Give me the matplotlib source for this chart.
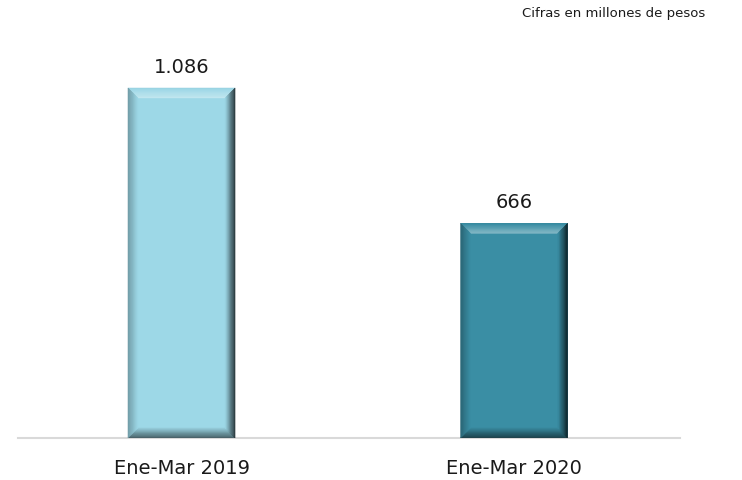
import matplotlib.pyplot as plt
from matplotlib import patches
from matplotlib import colors as mcolors
import numpy as np

periods = ['Ene-Mar 2019', 'Ene-Mar 2020']
values = [1086, 666]
labels = ['1.086', '666']
colors = ['#9dd8e7', '#3a8ea4']

fig = plt.figure(figsize=(7.42, 4.8), dpi=100)
ax = fig.add_axes([18/742, 42/480, 662/742, 438/480])

x = np.arange(len(values))
width = 0.322
bars = ax.bar(x, values, width=width, color=colors, zorder=2)

ax.set_xlim(-0.4917, 1.499)
ax.set_ylim(0, 1359)

# bevel size, roughly 10 px
bx = 10 / 332.5
by = 10 * 1359 / 438

def shade(c, f):
    c = np.array(mcolors.to_rgb(c))
    if f > 0:
        return c + (1 - c) * f
    return c * (1 + f)

def face(p0, p1, d0, d1, c, f_out, f_in, n=12):
    p0, p1, d0, d1 = map(np.array, (p0, p1, d0, d1))
    for k in range(n):
        t0, t1 = k / n, (k + 1) / n
        pts = [p0 + t0 * d0, p1 + t0 * d1, p1 + t1 * d1, p0 + t1 * d0]
        f = f_out + (f_in - f_out) * (k + 0.5) / n
        ax.add_patch(patches.Polygon(pts, closed=True, color=shade(c, f),
                                     lw=0.3, zorder=3))

for b, c in zip(bars, colors):
    x0, x1 = b.get_x(), b.get_x() + b.get_width()
    y0, y1 = 0, b.get_height()
    face((x0, y1), (x1, y1), (bx, -by), (-bx, -by), c, -0.05, 0.4)   # top
    face((x0, y0), (x1, y0), (bx, by), (-bx, by), c, -0.6, -0.05)    # bottom
    face((x0, y1), (x0, y0), (bx, -by), (bx, by), c, -0.3, 0.0)      # left
    face((x1, y1), (x1, y0), (-bx, -by), (-bx, by), c, -0.8, 0.0)    # right

for xi, v, lab in zip(x, values, labels):
    ax.annotate(lab, (xi, v), xytext=(0, 8), textcoords='offset points',
                ha='center', va='bottom', fontsize=14, color='#1a1a1a')

ax.set_xticks(x)
ax.set_xticklabels(periods, fontsize=14, color='#1a1a1a')
ax.tick_params(axis='x', length=0, pad=15)
ax.set_yticks([])
for s in ['top', 'right', 'left']:
    ax.spines[s].set_visible(False)
ax.spines['bottom'].set_color('#d9d9d9')
ax.spines['bottom'].set_linewidth(1.5)

fig.text(705/742, 1 - 13/480, 'Cifras en millones de pesos', ha='right', va='center',
         fontsize=9.5, color='#1a1a1a')

fig.savefig('out.png', dpi=100)
